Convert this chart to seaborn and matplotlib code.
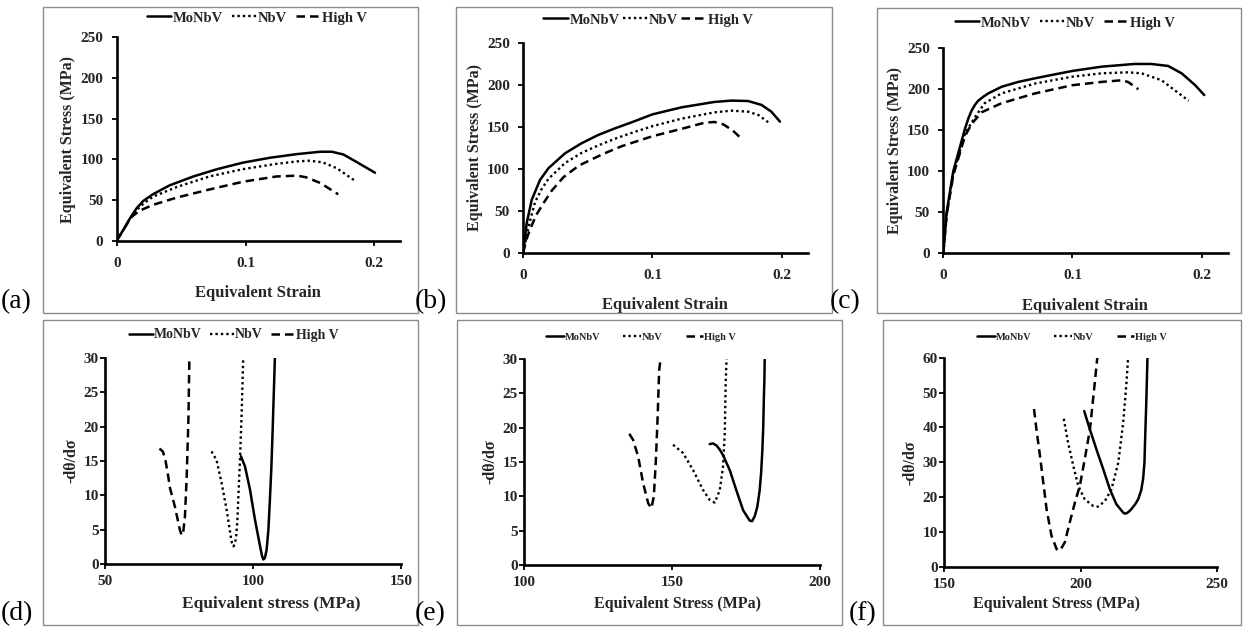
import numpy as np
import pandas as pd
import matplotlib
matplotlib.use("Agg")
import matplotlib.pyplot as plt
from matplotlib.patches import Rectangle
import seaborn as sns

# ---------------- data ----------------
series_names = ["MoNbV", "NbV", "High V"]

# (a)
a_strain_monbv = [0, 0.005, 0.0103, 0.0155, 0.0207, 0.028, 0.041, 0.0595, 0.078, 0.098, 0.119, 0.14, 0.158, 0.167, 0.176, 0.186, 0.2005]
a_stress_monbv = [0, 13, 27.5, 40, 49, 57, 68, 79, 88, 96, 102, 106.5, 109.4, 109.4, 106, 97, 83.6]
a_strain_nbv = [0, 0.005, 0.0103, 0.018, 0.028, 0.0466, 0.072, 0.098, 0.124, 0.14, 0.15, 0.16, 0.171, 0.186]
a_stress_nbv = [0, 13, 27, 42, 54, 66, 79, 88, 94.5, 97.5, 98.4, 96.3, 89, 72.5]
a_strain_highv = [0, 0.005, 0.0116, 0.018, 0.028, 0.0466, 0.072, 0.098, 0.124, 0.14, 0.147, 0.158, 0.172]
a_stress_highv = [0, 13, 29.5, 37, 44, 53, 63, 72.5, 79, 80, 78, 71, 57]

# (b)
b_strain_monbv = [0, 0.0026, 0.0065, 0.0129, 0.0194, 0.0323, 0.045, 0.058, 0.071, 0.0839, 0.1, 0.1226, 0.148, 0.161, 0.174, 0.1845, 0.192, 0.1987]
b_stress_monbv = [0, 35, 62.9, 86.7, 100.7, 118.6, 130.5, 140.5, 148.4, 155.6, 165.1, 173.5, 179.9, 181.5, 181, 176.3, 168.3, 156.4]
b_strain_nbv = [0, 0.0039, 0.009, 0.0142, 0.0194, 0.0323, 0.045, 0.058, 0.071, 0.0839, 0.1, 0.1226, 0.148, 0.161, 0.174, 0.182, 0.19]
b_stress_nbv = [0, 30, 60, 76, 88, 107, 119, 128, 136, 143, 151, 160, 167.5, 169.5, 168.3, 164.3, 155.2]
b_strain_highv = [0, 0.002, 0.005, 0.01, 0.016, 0.022, 0.031, 0.043, 0.062, 0.076, 0.1, 0.123, 0.14, 0.148, 0.155, 0.162, 0.169]
b_stress_highv = [0, 14, 27, 45, 60, 74, 90, 104, 118, 127, 139, 148, 155, 156, 153, 146, 136]

# (c)
c_strain_monbv = [0, 0.0026, 0.0077, 0.0168, 0.0195, 0.0219, 0.0245, 0.027, 0.031, 0.0348, 0.045, 0.058, 0.071, 0.084, 0.1, 0.1226, 0.148, 0.161, 0.174, 0.1845, 0.195, 0.202]
c_stress_monbv = [0, 50, 100, 152, 165, 174, 181, 186, 191, 195, 203, 209, 213.4, 217.5, 222.4, 227.6, 230.9, 230.9, 228.5, 219.5, 205, 193]
c_strain_nbv = [0, 0.0026, 0.0077, 0.0168, 0.0245, 0.032, 0.045, 0.071, 0.1, 0.1226, 0.143, 0.1535, 0.169, 0.179, 0.19]
c_stress_nbv = [0, 48, 97, 146, 166, 183, 195, 207, 215.4, 219.5, 220.7, 219.5, 211, 199, 186]
c_strain_highv = [0, 0.0026, 0.0077, 0.0168, 0.022, 0.0297, 0.045, 0.071, 0.1, 0.1226, 0.138, 0.143, 0.151]
c_stress_highv = [0, 47, 95, 143, 158, 172, 183, 195, 205, 209, 211, 209, 200]

# (d)
d_sigma_monbv = [95.9, 97.3, 99.0, 100.7, 102.4, 103.0, 103.5, 104.0, 104.6, 105.2, 105.7, 106.2, 106.6, 107.0, 107.4]
d_rate_monbv = [15.7, 14.2, 10.8, 6.4, 2.6, 1.3, 0.7, 0.9, 2.1, 5.0, 9.3, 14.0, 19.0, 24.5, 30.0]
d_sigma_nbv = [86.0, 87.7, 89.4, 91.1, 92.5, 92.9, 93.4, 93.9, 94.3, 94.7, 95.0, 95.6, 96.2, 96.7]
d_rate_nbv = [16.4, 15.1, 11.8, 7.9, 4.0, 3.1, 2.6, 3.0, 4.0, 6.2, 9.3, 15.1, 22.4, 30.0]
d_sigma_highv = [68.4, 69.5, 70.3, 71.2, 72.0, 73.6, 75.3, 75.9, 76.4, 77.0, 77.6, 78.2, 78.5]
d_rate_highv = [16.8, 16.4, 15.4, 13.2, 11.0, 8.4, 5.0, 4.2, 4.6, 6.9, 12.7, 21.4, 30.0]

# (e)
e_sigma_monbv = [162.7, 163.8, 165.0, 166.1, 167.2, 169.5, 171.7, 174.0, 176.2, 177.0, 177.9, 178.8, 179.6, 180.1, 180.5, 180.8, 181.0, 181.2, 181.3]
e_rate_monbv = [17.6, 17.7, 17.4, 16.8, 16.0, 13.8, 10.9, 8.0, 6.5, 6.4, 7.1, 8.5, 10.9, 13.5, 16.7, 20.0, 24.0, 27.0, 30.0]
e_sigma_nbv = [150.3, 153.7, 157.1, 160.5, 162.7, 164.4, 166.1, 167.2, 167.8, 168.1, 168.4]
e_rate_nbv = [17.5, 16.3, 13.8, 10.9, 9.5, 9.1, 10.9, 14.3, 19.2, 26.4, 30.0]
e_sigma_highv = [135.5, 136.8, 138.5, 140.2, 141.9, 143.0, 143.8, 144.5, 145.1, 145.6, 146.1]
e_rate_highv = [19.1, 18.2, 15.8, 11.9, 9.0, 8.3, 10.0, 15.3, 21.6, 28.3, 30.0]

# (f)
f_sigma_monbv = [201.3, 203.4, 205.8, 208.3, 210.7, 213.1, 215.6, 216.2, 216.8, 217.6, 218.6, 220.0, 221.1, 222.2, 222.9, 223.4, 223.6, 224.1, 224.5]
f_rate_monbv = [44.7, 39.4, 33.7, 28.0, 22.3, 18.0, 15.6, 15.3, 15.4, 15.8, 16.6, 18.0, 19.4, 22.0, 25.2, 30.0, 35.6, 48.0, 60.0]
f_sigma_nbv = [193.8, 195.4, 197.3, 199.1, 201.5, 204.6, 206.4, 208.9, 211.3, 213.8, 215.6, 216.8, 217.4]
f_rate_nbv = [42.5, 35.6, 29.0, 23.3, 19.4, 17.5, 17.3, 18.9, 22.3, 29.9, 41.4, 52.8, 60.0]
f_sigma_highv = [182.9, 183.8, 185.1, 186.3, 187.5, 189.3, 191.2, 191.9, 192.6, 194.2, 196.0, 197.9, 199.7, 201.5, 203.4, 204.8, 206.1]
f_rate_highv = [45.3, 39.4, 31.8, 24.2, 16.6, 9.0, 5.1, 4.7, 4.9, 7.1, 12.8, 18.5, 23.3, 30.9, 39.4, 49.9, 60.0]

top_xticks = [0, 0.1, 0.2]
top_xticklabels = ["0", "0.1", "0.2"]
top_yticks = [0, 50, 100, 150, 200, 250]
d_xticks = [50, 100, 150]
e_xticks = [100, 150, 200]
f_xticks = [150, 200, 250]
de_yticks = [0, 5, 10, 15, 20, 25, 30]
f_yticks = [0, 10, 20, 30, 40, 50, 60]

# ---------------- styling ----------------
sns.set_theme(style="white")
plt.rcParams["font.family"] = ["Liberation Serif", "DejaVu Serif"]

W, H = 1244, 627
fig = plt.figure(figsize=(W / 100, H / 100), dpi=100)
fig.patch.set_facecolor("white")

TXT = "#262626"
styles = {
    "MoNbV": dict(linestyle="-", lw=1.8),
    "NbV": dict(linestyle=(0, (1, 1.3)), lw=1.7),
    "High V": dict(linestyle=(0, (3.4, 2.0)), lw=1.8),
}


def px_axes(l, t, r, b):
    return fig.add_axes([l / W, 1 - b / H, (r - l) / W, (b - t) / H])


def box(l, t, r, b):
    fig.patches.append(Rectangle((l / W, 1 - b / H), (r - l) / W, (b - t) / H,
                                 transform=fig.transFigure, fill=False,
                                 ec="#8c8c8c", lw=1.0))


def panel(ax, xs, ys, xlim, ylim, xticks, xticklabels, yticks, xlabel, ylabel,
          leg_center, leg_size, xpad, ypad, xlabelpad, ylabelpad, colsp,
          label_size=12, xlabel_xy=None):
    for name, x, y in zip(series_names, xs, ys):
        df = pd.DataFrame({"x": x, "y": y})
        sns.lineplot(data=df, x="x", y="y", ax=ax, color="black", sort=False,
                     estimator=None, label=name, **styles[name])
    ax.set_xlim(*xlim)
    ax.set_ylim(*ylim)
    ax.set_xticks(xticks)
    ax.set_xticklabels(xticklabels)
    ax.set_yticks(yticks)
    ax.set_yticklabels([str(v) for v in yticks])
    for s in ["top", "right"]:
        ax.spines[s].set_visible(False)
    for s in ["left", "bottom"]:
        ax.spines[s].set_color("black")
        ax.spines[s].set_linewidth(1.9)
    ax.tick_params(axis="x", direction="out", length=3.6, width=1.3, color="black",
                   pad=xpad, labelsize=11, labelcolor=TXT, bottom=True)
    ax.tick_params(axis="y", direction="out", length=3.6, width=1.3, color="black",
                   pad=ypad, labelsize=11, labelcolor=TXT, left=True)
    for lab in ax.get_xticklabels() + ax.get_yticklabels():
        lab.set_fontweight("bold")
    ax.set_xlabel(xlabel, fontsize=label_size, fontweight="bold", color=TXT, labelpad=xlabelpad)
    ax.set_ylabel(ylabel, fontsize=11.5, fontweight="bold", color=TXT, labelpad=ylabelpad)
    if xlabel_xy is not None:
        ax.xaxis.set_label_coords(*xlabel_xy)
        ax.xaxis.label.set_horizontalalignment("center")
        ax.xaxis.label.set_verticalalignment("top")
    ax.grid(False)
    ax.set_facecolor("none")
    ax.legend(loc="center", bbox_to_anchor=(leg_center[0] / W, 1 - leg_center[1] / H),
              bbox_transform=fig.transFigure, ncol=3, frameon=False,
              prop={"weight": "bold", "size": leg_size}, handlelength=1.7,
              handletextpad=0.1, columnspacing=colsp, labelcolor=TXT)
    return ax


# panel boxes
box(42.7, 7.3, 418, 313)
box(456, 7.3, 831.7, 313)
box(876.7, 8, 1241, 313)
box(43.3, 320.3, 417.7, 625.3)
box(456.7, 320.3, 841.7, 625.3)
box(883.3, 320.3, 1241, 625.3)

strain_lbl = "Equivalent Strain"
stress_lbl = "Equivalent Stress (MPa)"
rate_lbl = "-dθ/dσ"

ax_a = px_axes(116.7, 37.4, 400.1, 240.7)
panel(ax_a, [a_strain_monbv, a_strain_nbv, a_strain_highv],
      [a_stress_monbv, a_stress_nbv, a_stress_highv],
      (0, 0.22), (0, 250), top_xticks, top_xticklabels, top_yticks,
      strain_lbl, stress_lbl, (257, 18), 10.5, 8, 6, 11, 3, 0.6)

ax_b = px_axes(523.3, 43.2, 807.5, 252.7)
panel(ax_b, [b_strain_monbv, b_strain_nbv, b_strain_highv],
      [b_stress_monbv, b_stress_nbv, b_stress_highv],
      (0, 0.22), (0, 250), top_xticks, top_xticklabels, top_yticks,
      strain_lbl, stress_lbl, (648, 20), 10.5, 8, 6, 11, 3, 0.2)

ax_c = px_axes(943.3, 48.3, 1227.5, 253.3)
panel(ax_c, [c_strain_monbv, c_strain_nbv, c_strain_highv],
      [c_stress_monbv, c_stress_nbv, c_stress_highv],
      (0, 0.22), (0, 250), top_xticks, top_xticklabels, top_yticks,
      strain_lbl, stress_lbl, (1065, 23), 10.5, 8, 6, 11, 3, 0.6)

ax_d = px_axes(105, 357.7, 401, 564.3)
panel(ax_d, [d_sigma_monbv, d_sigma_nbv, d_sigma_highv],
      [d_rate_monbv, d_rate_nbv, d_rate_highv],
      (50, 150), (0, 30), d_xticks, [str(v) for v in d_xticks], de_yticks,
      "Equivalent stress (MPa)", rate_lbl, (234, 335), 10, 4, 1, 7, 3, 0.6,
      label_size=12.5, xlabel_xy=(0.5625, -0.155))

ax_e = px_axes(524.3, 358.7, 820, 565.3)
panel(ax_e, [e_sigma_monbv, e_sigma_nbv, e_sigma_highv],
      [e_rate_monbv, e_rate_nbv, e_rate_highv],
      (100, 200), (0, 30), e_xticks, [str(v) for v in e_xticks], de_yticks,
      stress_lbl, rate_lbl, (641, 337), 7.5, 4, 1, 7, 3, 2.2,
      label_size=11.5, xlabel_xy=(0.517, -0.15))

ax_f = px_axes(944.3, 357.7, 1217, 567)
panel(ax_f, [f_sigma_monbv, f_sigma_nbv, f_sigma_highv],
      [f_rate_monbv, f_rate_nbv, f_rate_highv],
      (150, 250), (0, 60), f_xticks, [str(v) for v in f_xticks], f_yticks,
      stress_lbl, rate_lbl, (1072, 337), 7.5, 4, 1, 6, 3, 2.2,
      label_size=11.5, xlabel_xy=(0.41, -0.14))

# panel letters
for lx, ly, t in [(1, 314, "(a)"), (415, 314, "(b)"), (830, 314, "(c)"),
                  (1, 626, "(d)"), (415, 626, "(e)"), (849, 626, "(f)")]:
    fig.text(lx / W, 1 - ly / H, t, fontsize=20, color="black", ha="left", va="bottom")

fig.savefig("out.png", dpi=100, facecolor="white")
